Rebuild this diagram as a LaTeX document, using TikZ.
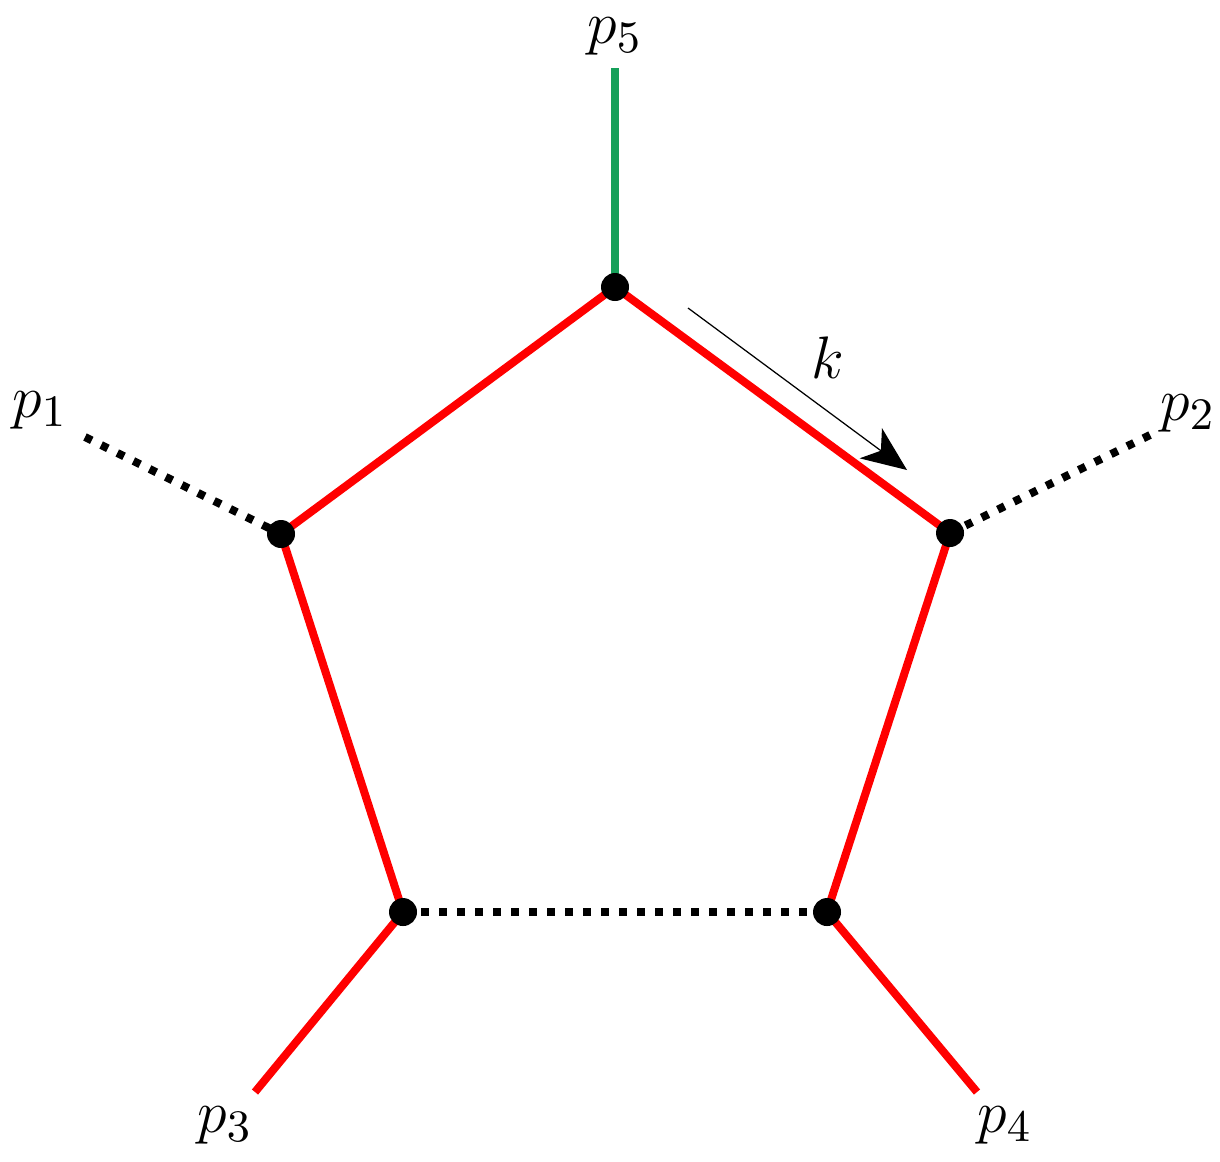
\documentclass[tikz,border=0pt]{standalone}
\usetikzlibrary{arrows.meta}
\definecolor{lred}{RGB}{255,0,0}
\definecolor{lgreen}{RGB}{22,160,90}
\begin{document}
\begin{tikzpicture}[x=0.2pt,y=-0.2pt,
  redline/.style={draw=lred,line width=1.6pt},
  greenline/.style={draw=lgreen,line width=1.5pt},
  dotline/.style={draw=black,line width=1.6pt,dash pattern=on 1.5pt off 2.1pt},
  vtx/.style={circle,fill=black,inner sep=0pt,minimum size=5.6pt},
  lbl/.style={font=\fontsize{12.5}{15}\selectfont,inner sep=0pt}]
\useasboundingbox (0,0) rectangle (1220,1161);
% external ends
\coordinate (e5) at (615,68);
\coordinate (e1) at (85,437);
\coordinate (e2) at (1150,435);
\coordinate (e3) at (255,1092);
\coordinate (e4) at (977,1092);
% vertices
\coordinate (vt) at (615,287);
\coordinate (vl) at (281,534);
\coordinate (vr) at (950,533);
\coordinate (vbl) at (403,912);
\coordinate (vbr) at (827,912);
% lines
\draw[greenline] (vt) -- (e5);
\draw[redline] (vl) -- (vt) -- (vr);
\draw[redline] (vl) -- (vbl);
\draw[redline] (vr) -- (vbr);
\draw[redline] (vbl) -- (e3);
\draw[redline] (vbr) -- (e4);
\draw[dotline] (e1) -- (vl);
\draw[dotline] (e2) -- (vr);
\draw[dotline] (vbl) -- (vbr);
% dots
\foreach \v in {vt,vl,vr,vbl,vbr} \node[vtx] (n\v) at (\v) {};
% momentum arrow
\coordinate (ka) at (688,308);
\coordinate (kb) at (907,470);
\draw[line width=0.25pt,-{Stealth[length=9pt,width=7.5pt,inset=2.5pt]}] (ka) -- (kb);
% labels
\node[lbl] (l5) at (615,36) {$p_5$};
\node[lbl] (l1) at (40,410) {$p_1$};
\node[lbl] (l2) at (1188,413) {$p_2$};
\node[lbl] (l3) at (225,1125) {$p_3$};
\node[lbl] (l4) at (1005,1125) {$p_4$};
\node[lbl] (lk) at (828,358) {$k$};
\end{tikzpicture}
\end{document}
